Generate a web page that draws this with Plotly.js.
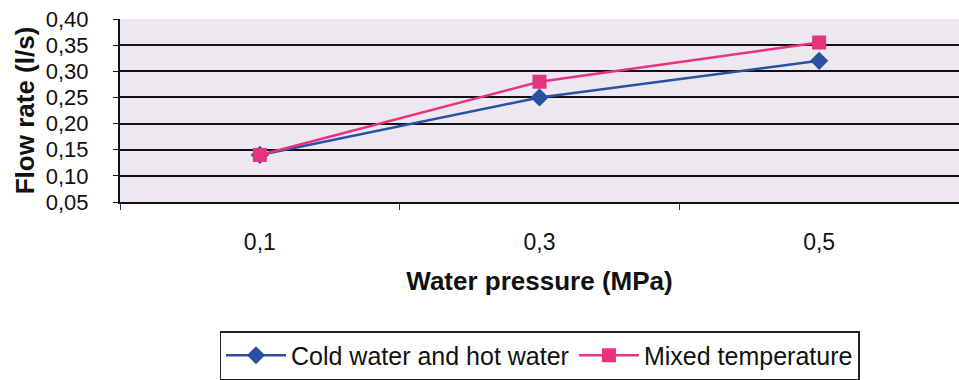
<!DOCTYPE html>
<html><head><meta charset="utf-8">
<script src="https://cdn.plot.ly/plotly-3.0.1.min.js"></script>
<style>body{margin:0;background:#fff}#c{width:959px;height:380px}</style>
</head><body><div id="c"></div>
<script>
const pressures = ["0,1", "0,3", "0,5"];
const coldHot = [0.14, 0.25, 0.32];
const mixed = [0.14, 0.28, 0.355];
const yTicks = [0.05, 0.10, 0.15, 0.20, 0.25, 0.30, 0.35, 0.40];

const font = "Liberation Sans, Arial, sans-serif";
const traces = [
  {x: pressures, y: coldHot, name: "Cold water and hot water", type: "scatter", mode: "lines+markers",
   line: {color: "#2b50a3", width: 2.5}, marker: {symbol: "diamond", size: 14, color: "#2b50a3"}},
  {x: pressures, y: mixed, name: "Mixed temperature", type: "scatter", mode: "lines+markers",
   line: {color: "#e6337f", width: 2.5}, marker: {symbol: "square", size: 14, color: "#e6337f"}}
];
const layout = {
  width: 959, height: 380,
  margin: {l: 120, r: 0, t: 19, b: 178},
  paper_bgcolor: "#ffffff", plot_bgcolor: "#ede7f0",
  separators: ", ",
  font: {family: font, size: 22, color: "#111"},
  showlegend: true,
  legend: {orientation: "h", x: 0.5, xanchor: "center", xref: "paper", y: -0.84, yanchor: "middle",
           bordercolor: "#222", borderwidth: 1.5, bgcolor: "#fff", font: {size: 25, family: font},
           itemwidth: 60, tracegroupgap: 0},
  xaxis: {type: "category", range: [-0.5, 2.5], tickson: "boundaries", ticks: "outside", ticklen: 6, tickcolor: "#333",
          showgrid: false, showline: true, linecolor: "#111", linewidth: 2, zeroline: false,
          ticklabelstandoff: 18, tickfont: {size: 23},
          title: {text: "<b>Water pressure (MPa)</b>", font: {size: 26, family: font}, standoff: 18}},
  yaxis: {range: [0.05, 0.40], tickvals: yTicks, tickformat: ".2f", ticks: "outside", ticklen: 5,
          tickcolor: "#111", showgrid: true, gridcolor: "#111", gridwidth: 2, zeroline: false,
          showline: true, linecolor: "#111", linewidth: 2, ticklabelstandoff: 20, tickfont: {size: 22},
          title: {text: "<b>Flow rate (l/s)</b>", font: {size: 26, family: font}, standoff: 4}}
};
Plotly.newPlot("c", traces, layout, {displayModeBar: false, staticPlot: true});
</script></body></html>
